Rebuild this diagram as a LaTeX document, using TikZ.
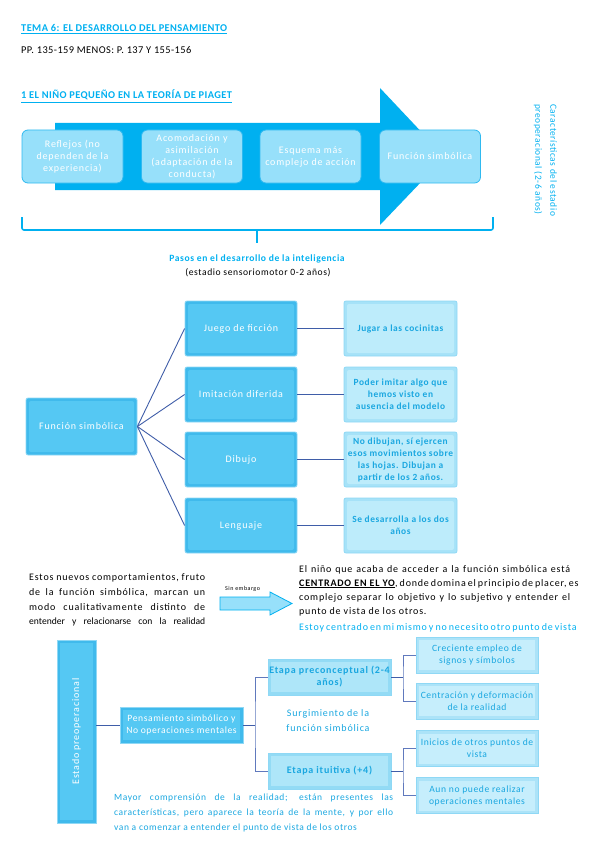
\documentclass[tikz,border=0pt]{standalone}
\usepackage{fontspec}
\setmainfont{Carlito}[LetterSpace=8]
\newfontfamily\plainf{Carlito}
\newfontfamily\headf{Carlito}[LetterSpace=4]
\newfontfamily\midf{Carlito}[LetterSpace=6]
\usetikzlibrary{positioning}
\definecolor{cyanA}{HTML}{00B0F0}
\definecolor{boxLight}{HTML}{97E0FA}
\definecolor{boxEdge}{HTML}{2FB9F0}
\definecolor{midFill}{HTML}{55C8F3}
\definecolor{midBevel}{HTML}{40BAEC}
\definecolor{midEdge}{HTML}{8FD8F5}
\definecolor{leafFill}{HTML}{BDECFB}
\definecolor{leafBevel}{HTML}{A6E2F8}
\definecolor{leafText}{HTML}{1AA7E0}
\definecolor{conn}{HTML}{3F5DA8}
\definecolor{conn2}{HTML}{6079BD}
\definecolor{etapaFill}{HTML}{AEE6F9}
\definecolor{etapaBevel}{HTML}{93DBF5}
\definecolor{leaf2Fill}{HTML}{C6EEFC}
\definecolor{leaf2Bevel}{HTML}{ACE3F8}
\newcommand\fsz[2]{\fontsize{#1}{#2}\selectfont}
\tikzset{
  bevel/.style={path picture={\fill[#1] ([shift={(3pt,-3pt)}]path picture bounding box.north west) rectangle ([shift={(-3pt,3pt)}]path picture bounding box.south east);}},
  topbox/.style={draw=boxEdge, fill=boxLight, rounded corners=6, line width=0.8, text=white, align=center, font=\fsz{10}{12}, minimum width=101, minimum height=53, inner sep=0},
  midbox/.style={draw=midEdge, fill=midBevel, bevel=midFill, rounded corners=2, line width=0.8, text=white, align=center, font=\fsz{10}{12}, minimum width=112, minimum height=55, inner sep=1},
  leafbox/.style={draw=midEdge, fill=leafBevel, bevel=leafFill, rounded corners=2, line width=0.8, text=leafText, align=center, font=\midf\bfseries\fsz{9.4}{12}, minimum width=113, minimum height=55, inner sep=0},
  etapabox/.style={draw=midEdge, fill=etapaBevel, bevel=etapaFill, line width=0.8, text=leafText, align=center, font=\bfseries\fsz{10}{12}, minimum width=123, minimum height=36, inner sep=0},
  leaf2box/.style={draw=midEdge, fill=leaf2Bevel, bevel=leaf2Fill, line width=0.8, text=leafText, align=center, font=\midf\fsz{9.6}{12}, minimum width=122, minimum height=36, inner sep=0},
  conline/.style={draw=conn, line width=0.9},
  conline2/.style={draw=conn2, line width=0.9},
  txt/.style={inner sep=0, anchor=base west},
}
\begin{document}
\begin{tikzpicture}[x=1pt,y=-1pt]
\useasboundingbox (0,0) rectangle (599,848);
% headings
\node[txt, text=cyanA, font=\headf\bfseries\fsz{10.4}{12}] (h1) at (21,32) {\underline{TEMA 6: EL DESARROLLO DEL PENSAMIENTO}};
\node[txt, font=\headf\fsz{10.4}{12}] (h2) at (21,54) {PP. 135-159 MENOS: P. 137 Y 155-156};
\node[txt, text=cyanA, font=\headf\bfseries\fsz{10.4}{12}] (h3) at (21,99) {\underline{1 EL NIÑO PEQUEÑO EN LA TEORÍA DE PIAGET}};
% big arrow
\fill[cyanA] (55,123) -- (380,123) -- (380,88) -- (445,157) -- (380,225) -- (380,190) -- (55,190) -- cycle;
\node[topbox] (b1) at (72.5,156.5) {Reflejos (no\\dependen de la\\experiencia)};
\node[topbox] (b2) at (192,156.5) {Acomodación y\\asimilación\\(adaptación de la\\conducta)};
\node[topbox] (b3) at (310.5,156.5) {Esquema más\\complejo de acción};
\node[topbox] (b4) at (430,156.5) {Función simbólica};
% brace
\coordinate (brL) at (22,217);
\coordinate (brR) at (493,217);
\coordinate (brM) at (257,230);
\coordinate (brT) at (257,243);
\draw[cyanA, line width=1.6, rounded corners=2] (brL) -- (22,230) -- (493,230) -- (brR);
\draw[cyanA, line width=1.6] (brM) -- (brT);
\node[inner sep=0, text=cyanA, font=\midf\bfseries\fsz{9.6}{12}] (p1) at (257,259) {Pasos en el desarrollo de la inteligencia};
\node[inner sep=0, font=\midf\fsz{9.6}{12}] (p2) at (258,273) {(estadio sensoriomotor 0-2 años)};
% vertical caption
\node[rotate=-90, anchor=north west, inner sep=0, text=cyanA, align=left, font=\midf\fsz{9.4}{15}] (cap) at (557,104) {Características del estadio\\preoperacional (2-6 años)};
% middle tree
\node[midbox, minimum width=111, minimum height=57] (fs) at (81.5,426.5) {Función simbólica};
\node[midbox] (c1) at (241,328.5) {Juego de ficción};
\node[midbox] (c2) at (241,394.5) {Imitación diferida};
\node[midbox] (c3) at (241,459.5) {Dibujo};
\node[midbox] (c4) at (241,525.5) {Lenguaje};
\node[leafbox] (l1) at (400.5,328.5) {Jugar a las cocinitas};
\node[leafbox] (l2) at (400.5,394.5) {Poder imitar algo que\\hemos visto en\\ausencia del modelo};
\node[leafbox] (l3) at (400.5,459.5) {No dibujan, sí ejercen\\esos movimientos sobre\\las hojas. Dibujan a\\partir de los 2 años.};
\node[leafbox] (l4) at (400.5,525.5) {Se desarrolla a los dos\\años};
\foreach \c in {c1,c2,c3,c4} \draw[conline] (fs.east) -- (\c.west);
\draw[conline] (c1) -- (l1); \draw[conline] (c2) -- (l2); \draw[conline] (c3) -- (l3); \draw[conline] (c4) -- (l4);
% left paragraph
\begin{scope}[font=\fsz{10}{12}]
\node[txt] (lp1) at (29,580) {\makebox[176pt][s]{Estos nuevos comportamientos, fruto}};
\node[txt] (lp2) at (29,595) {\makebox[176pt][s]{de la función simbólica, marcan un}};
\node[txt] (lp3) at (29,610) {\makebox[176pt][s]{modo cualitativamente distinto de}};
\node[txt] (lp4) at (29,624) {\plainf\fsz{9.6}{12}\makebox[176pt][s]{entender y relacionarse con la realidad}};
\end{scope}
\node[txt, font=\fsz{6}{7}] (se) at (225,590) {Sin embargo};
\draw[draw=cyanA, fill=boxLight, line width=0.8] (220,597) -- (270,597) -- (270,592) -- (292,603.5) -- (270,615) -- (270,610) -- (220,610) -- cycle;
\begin{scope}[font=\fsz{10}{12}]
\node[txt] (rp1) at (299,572) {\makebox[271pt][s]{El niño que acaba de acceder a la función simbólica está}};
\node[txt] (rp2) at (299,586) {\makebox[271pt][s]{\textbf{\underline{CENTRADO EN EL YO}}, donde domina el principio de placer, es}};
\node[txt] (rp3) at (299,600) {\makebox[271pt][s]{complejo separar lo objetivo y lo subjetivo y entender el}};
\node[txt] (rp4) at (299,614) {punto de vista de los otros.};
\node[txt, text=cyanA] (rp5) at (299,630) {\makebox[271pt][s]{Estoy centrado en mi mismo y no necesito otro punto de vista}};
\end{scope}
% bottom tree
\node[draw=midEdge, fill=midBevel, bevel=midFill, line width=0.8, minimum width=39, minimum height=183, inner sep=0] (ep) at (76.5,731.5) {};
\node[rotate=90, text=white, font=\fsz{10}{12}, inner sep=0] (ept) at (ep.center) {Estado preoperacional};
\node[draw=midEdge, fill=midBevel, bevel=midFill, line width=0.8, minimum width=123, minimum height=36, text=white, align=center, font=\midf\fsz{9.6}{12}, inner sep=0] (pn) at (181.5,725) {Pensamiento simbólico y\\No operaciones mentales};
\draw[conline] (ep.east |- pn.west) -- (pn.west);
\coordinate (f1) at (255,725);
\node[etapabox] (e1) at (329.5,677) {Etapa preconceptual (2-4\\años)};
\node[etapabox] (e2) at (329.5,771) {Etapa ituitiva (+4)};
\draw[conline] (pn.east) -- (f1);
\draw[conline2] (e1.west) -| (f1) |- (e2.west);
\node[leaf2box] (g1) at (477,655) {Creciente empleo de\\signos y símbolos};
\node[leaf2box] (g2) at (477,701) {Centración y deformación\\de la realidad};
\node[leaf2box] (g3) at (477,748.5) {Inicios de otros puntos de\\vista};
\node[leaf2box] (g4) at (477,795.5) {Aun no puede realizar\\operaciones mentales};
\coordinate (f2) at (403,677);
\coordinate (f3) at (403,771);
\draw[conline] (e1.east) -- (f2);
\draw[conline2] (g1.west) -| (f2) |- (g2.west);
\draw[conline] (e2.east) -- (f3);
\draw[conline2] (g3.west) -| (f3) |- (g4.west);
\node[text=leafText, align=center, font=\fsz{10}{15}, inner sep=0] (sur) at (328,720.5) {Surgimiento de la\\función simbólica};
\begin{scope}[font=\midf\fsz{9.5}{12}, text=leafText]
\node[txt] (bp1) at (114,800) {\makebox[279pt][s]{Mayor comprensión de la realidad; están presentes las}};
\node[txt] (bp2) at (114,815) {\makebox[279pt][s]{características, pero aparece la teoría de la mente, y por ello}};
\node[txt] (bp3) at (114,830) {van a comenzar a entender el punto de vista de los otros};
\end{scope}
\end{tikzpicture}
\end{document}
